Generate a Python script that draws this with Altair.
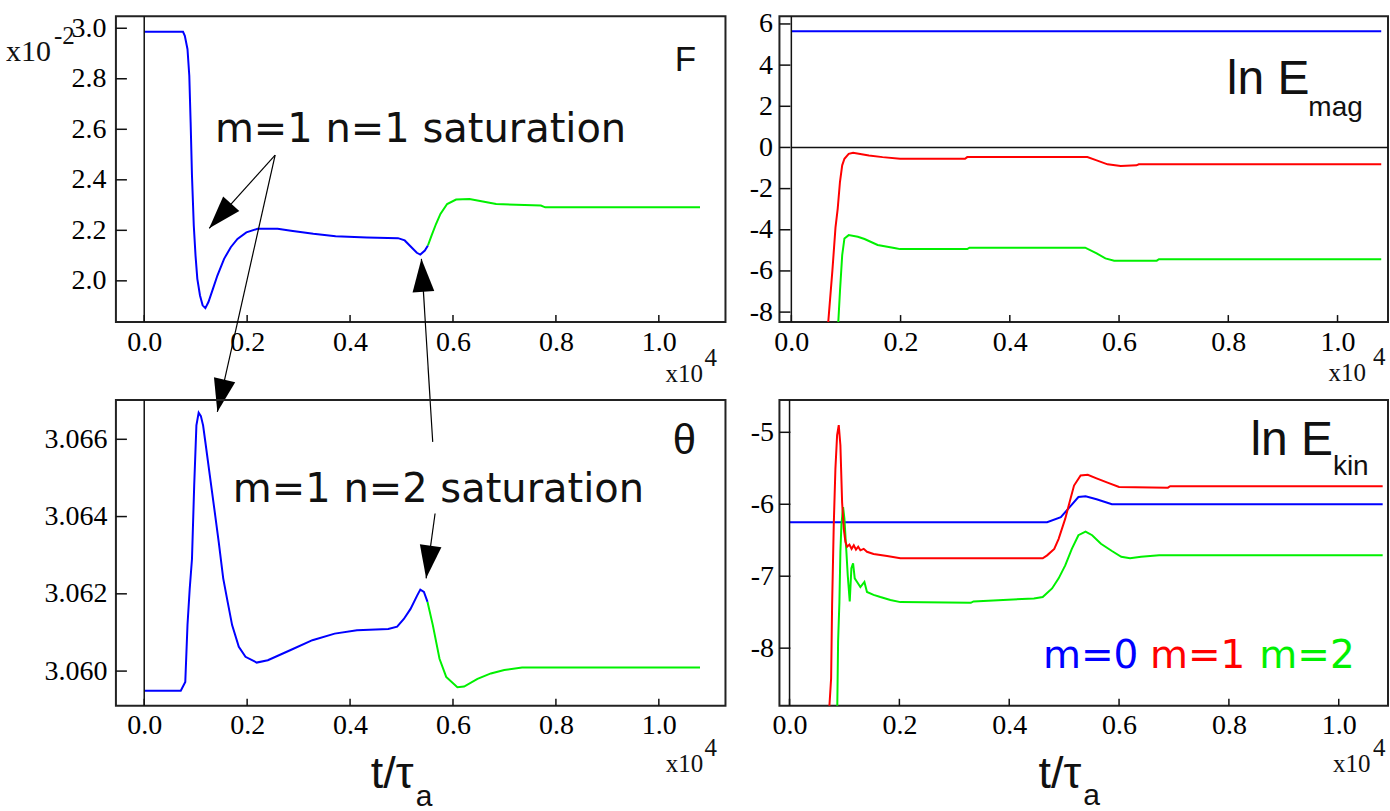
import math
import altair as alt
import pandas as pd

# ---------------- data (time in units of 10^4 tau_a) ----------------
F_blue_t = [0.0, 0.0754, 0.0789, 0.0841, 0.0876, 0.0902, 0.0928, 0.0963, 0.0997, 0.1032,
            0.1084, 0.1135, 0.1188, 0.1248, 0.1335, 0.1422, 0.1552, 0.1682, 0.1812, 0.1985,
            0.2202, 0.2592, 0.2852, 0.3286, 0.3719, 0.4326, 0.4932, 0.5062, 0.5192, 0.5297,
            0.5365, 0.5453, 0.5513]
F_blue_v = [2.986, 2.986, 2.970, 2.917, 2.812, 2.627, 2.417, 2.219, 2.100, 2.008,
            1.942, 1.903, 1.892, 1.916, 1.968, 2.021, 2.087, 2.133, 2.166, 2.192,
            2.206, 2.206, 2.198, 2.186, 2.177, 2.172, 2.169, 2.160, 2.133, 2.111,
            2.104, 2.120, 2.140]
F_green_t = [0.5513, 0.5583, 0.567, 0.5756, 0.5886, 0.606, 0.632, 0.6579, 0.6839, 0.7707, 0.7793, 1.08]
F_green_v = [2.140, 2.179, 2.225, 2.265, 2.304, 2.322, 2.324, 2.314, 2.304, 2.298, 2.291, 2.291]

TH_blue_t = [0.0, 0.071, 0.0798, 0.0841, 0.0884, 0.0928, 0.0971, 0.1014, 0.1058, 0.1101,
             0.1144, 0.1188, 0.1274, 0.1361, 0.1448, 0.1535, 0.1621, 0.1708, 0.1838, 0.1968,
             0.2185, 0.2402, 0.2835, 0.3268, 0.3701, 0.4134, 0.4742, 0.4915, 0.5045, 0.5175,
             0.5305, 0.5365, 0.5435, 0.5505]
TH_blue_v = [3.05949, 3.05949, 3.05972, 3.0612, 3.06213, 3.0629, 3.0648, 3.06636, 3.06669, 3.06660,
             3.06636, 3.06593, 3.06507, 3.06421, 3.06334, 3.0624, 3.06179, 3.06119, 3.06063, 3.06037,
             3.06022, 3.06028, 3.06054, 3.0608, 3.06097, 3.06106, 3.06109, 3.06115, 3.06135, 3.06161,
             3.06196, 3.06211, 3.06205, 3.06179]
TH_green_t = [0.5505, 0.5608, 0.5738, 0.5868, 0.6085, 0.6216, 0.6476, 0.6736, 0.6996, 0.7342, 1.08]
TH_green_v = [3.06179, 3.06119, 3.06032, 3.05985, 3.05958, 3.05960, 3.0598, 3.05994, 3.06003, 3.06009, 3.06009]

EM_m0_t = [0.0, 1.08]
EM_m0_v = [5.65, 5.65]
EM_m1_t = [0.066, 0.0751, 0.0808, 0.0849, 0.0890, 0.0931, 0.0972, 0.105, 0.113, 0.142, 0.167,
           0.199, 0.318, 0.322, 0.542, 0.559, 0.579, 0.603, 0.632, 0.636, 1.08]
EM_m1_v = [-9.0, -6.0, -3.9, -2.97, -1.68, -0.87, -0.55, -0.31, -0.26, -0.39, -0.47,
           -0.55, -0.55, -0.47, -0.47, -0.63, -0.82, -0.90, -0.87, -0.82, -0.82]
EM_m2_t = [0.0849, 0.089, 0.0931, 0.0972, 0.105, 0.1217, 0.134, 0.158, 0.191, 0.199, 0.322,
           0.326, 0.538, 0.559, 0.575, 0.591, 0.669, 0.673, 1.08]
EM_m2_v = [-9.0, -7.0, -5.23, -4.42, -4.26, -4.34, -4.45, -4.74, -4.9, -4.94, -4.94,
           -4.87, -4.87, -5.15, -5.39, -5.5, -5.5, -5.43, -5.43]

EK_m0_t = [0.0, 0.469, 0.494, 0.510, 0.526, 0.539, 0.559, 0.587, 1.08]
EK_m0_v = [-6.25, -6.25, -6.18, -6.04, -5.90, -5.89, -5.93, -6.0, -6.0]
EK_m1_t = [0.071, 0.0757, 0.0775, 0.0805, 0.0835, 0.0866, 0.0896, 0.0926, 0.0957, 0.0987, 0.1017,
           0.1048, 0.109, 0.113, 0.117, 0.121, 0.125, 0.129, 0.135, 0.141, 0.153, 0.1776, 0.2018,
           0.461, 0.469, 0.482, 0.490, 0.502, 0.510, 0.518, 0.530, 0.543, 0.559, 0.579, 0.600,
           0.689, 0.693, 1.08]
EK_m1_v = [-9.0, -8.42, -7.40, -6.29, -5.51, -5.04, -4.90, -5.18, -5.97, -6.34, -6.52,
           -6.59, -6.56, -6.62, -6.57, -6.63, -6.59, -6.64, -6.62, -6.66, -6.69, -6.72, -6.75,
           -6.75, -6.71, -6.62, -6.48, -6.2, -5.97, -5.74, -5.60, -5.59, -5.64, -5.70, -5.76,
           -5.77, -5.75, -5.75]
EK_m2_t = [0.0866, 0.0884, 0.0908, 0.0926, 0.0944, 0.0975, 0.0999, 0.1035, 0.106, 0.1096, 0.1126,
           0.1157, 0.1187, 0.123, 0.129, 0.1363, 0.141, 0.153, 0.1654, 0.1836, 0.2018, 0.33, 0.335,
           0.445, 0.461, 0.478, 0.490, 0.502, 0.514, 0.526, 0.539, 0.551, 0.567, 0.587, 0.604,
           0.620, 0.640, 0.673, 1.08]
EK_m2_v = [-9.0, -7.91, -7.36, -6.66, -6.29, -6.04, -6.2, -6.66, -6.99, -7.35, -6.89,
           -6.82, -7.03, -7.08, -7.15, -7.08, -7.22, -7.26, -7.29, -7.33, -7.36, -7.37, -7.35,
           -7.31, -7.29, -7.17, -7.03, -6.85, -6.62, -6.43, -6.38, -6.43, -6.55, -6.65, -6.73,
           -6.75, -6.73, -6.71, -6.71]

X_TICKS = [0.0, 0.2, 0.4, 0.6, 0.8, 1.0]
F_TICKS = [2.0, 2.2, 2.4, 2.6, 2.8, 3.0]
TH_TICKS = [3.060, 3.062, 3.064, 3.066]
EM_TICKS = [-8, -6, -4, -2, 0, 2, 4, 6]
EK_TICKS = [-8, -7, -6, -5]

# ---------------- styling ----------------
SANS = "Liberation Sans"
SERIF = "Liberation Serif"
WIDE = "DejaVu Sans"
BLUE, RED, GREEN = "#0000ff", "#ff0000", "#00f000"
INK = "#111111"
H = 306
W_L, W_R = 610, 609
ARROW_PATH = "M0,0L0.66,2L-0.66,2Z"
TICK_FONT = dict(labelFont=SERIF, labelFontSize=28, labelColor="#000000",
                 domain=False, ticks=False, grid=False, title=None, labelOverlap=False)


def make_panel(xdom, ydom, width, yticks, yfmt, ylabpad, series, texts,
               arrows=(), hzero=False):
    sx = alt.Scale(domain=xdom, nice=False, zero=False)
    sy = alt.Scale(domain=ydom, nice=False, zero=False)
    ax = alt.Axis(values=X_TICKS, format=".1f", labelPadding=6, labelFlush=False, **TICK_FONT)
    ay = alt.Axis(values=yticks, format=yfmt, labelPadding=ylabpad,
                  labelExpr="replace(datum.label, '\u2212', '-')", **TICK_FONT)

    def X(f):
        return alt.X(f, type="quantitative", scale=sx, axis=ax)

    def Y(f):
        return alt.Y(f, type="quantitative", scale=sy, axis=ay)

    layers = []
    for ts, vs, col in series:
        df = pd.DataFrame({"t": ts, "v": vs})
        layers.append(alt.Chart(df).mark_line(color=col, strokeWidth=2, clip=True)
                      .encode(x=X("t"), y=Y("v")))
    # vertical line at t = 0
    layers.append(alt.Chart(pd.DataFrame({"t": [0.0]}))
                  .mark_rule(color=INK, strokeWidth=1.5).encode(x=X("t")))
    if hzero:
        layers.append(alt.Chart(pd.DataFrame({"t": [0.0], "t2": [xdom[1]], "v": [0.0]}))
                      .mark_rule(color=INK, strokeWidth=1.5)
                      .encode(x=X("t"), x2="t2", y=Y("v")))
    # inward ticks
    layers.append(alt.Chart(pd.DataFrame({"v": yticks}))
                  .mark_rule(color=INK, strokeWidth=1.5)
                  .encode(y=Y("v"), x=alt.value(0), x2=alt.value(11)))
    layers.append(alt.Chart(pd.DataFrame({"t": X_TICKS}))
                  .mark_rule(color=INK, strokeWidth=1.5)
                  .encode(x=X("t"), y=alt.value(H - 7), y2=alt.value(H)))
    # arrows
    if arrows:
        pxx = width / (xdom[1] - xdom[0])
        pxy = H / (ydom[1] - ydom[0])
        t1, v1, t2, v2, ang = [], [], [], [], []
        for a in arrows:
            t1.append(a[0]); v1.append(a[1]); t2.append(a[2]); v2.append(a[3])
            dx = (a[2] - a[0]) * pxx
            dy = -(a[3] - a[1]) * pxy
            ang.append(math.degrees(math.atan2(dx, -dy)) % 360)
        adf = pd.DataFrame({"t": t1, "v": v1, "t2": t2, "v2": v2, "ang": ang})
        layers.append(alt.Chart(adf).mark_rule(color="#000000", strokeWidth=1.2)
                      .encode(x=X("t"), y=Y("v"), x2="t2", y2="v2"))
        layers.append(alt.Chart(adf).mark_point(shape=ARROW_PATH, size=1089, filled=True,
                                                color="#000000", opacity=1, strokeWidth=0)
                      .encode(x=X("t2"), y=Y("v2"), angle=alt.Angle("ang:Q", scale=None)))
    # texts
    for (s, t, v, font, size, col, align) in texts:
        tdf = pd.DataFrame({"t": [t], "v": [v], "s": [s]})
        layers.append(alt.Chart(tdf).mark_text(font=font, fontSize=size, color=col,
                                               align=align, baseline="alphabetic")
                      .encode(x=X("t"), y=Y("v"), text="s:N"))
    return alt.layer(*layers).properties(width=width, height=H)


TL = make_panel(
    [-0.055, 1.1295], [1.8368, 3.0474], W_L, F_TICKS, ".1f", 10,
    [(F_blue_t, F_blue_v, BLUE), (F_green_t, F_green_v, GREEN)],
    [("F", 1.0518, 2.8316, SANS, 35, INK, "center"),
     ("m=1 n=1 saturation", 0.1373, 2.548, WIDE, 40, INK, "left"),
     ("x10", -0.2685, 2.8711, SERIF, 30, INK, "left"),
     ("-2", -0.1753, 2.9368, SERIF, 25, INK, "left"),
     ("x10", 1.013, 1.5996, SERIF, 25, INK, "left"),
     ("4", 1.0887, 1.6628, SERIF, 25, INK, "left")],
    arrows=[(0.2544, 2.498, 0.1262, 2.208),
            (0.2544, 2.498, 0.1421, 1.481),
            (0.5606, 1.3625, 0.5386, 2.087)],
)

TR = make_panel(
    [-0.0218, 1.0924], [-8.484, 6.373], W_R, EM_TICKS, "d", 7,
    [(EM_m0_t, EM_m0_v, BLUE), (EM_m2_t, EM_m2_v, GREEN), (EM_m1_t, EM_m1_v, RED)],
    [("ln E", 0.7973, 2.594, SANS, 48, INK, "left"),
     ("mag", 0.9466, 1.515, SANS, 28, INK, "left"),
     ("x10", 0.9834, -11.36, SERIF, 25, INK, "left"),
     ("4", 1.0651, -10.585, SERIF, 25, INK, "left")],
    hzero=True,
)

BL = make_panel(
    [-0.055, 1.1295], [3.059102, 3.067017], W_L, TH_TICKS, ".3f", 9,
    [(TH_blue_t, TH_blue_v, BLUE), (TH_green_t, TH_green_v, GREEN)],
    [("\u03b8", 1.0499, 3.06563, SANS, 42, INK, "center"),
     ("m=1 n=2 saturation", 0.1722, 3.06438, WIDE, 40, INK, "left"),
     ("x10", 1.0134, 3.057395, SERIF, 25, INK, "left"),
     ("4", 1.0887, 3.057809, SERIF, 25, INK, "left"),
     ("t/\u03c4", 0.4402, 3.056980, SANS, 45, INK, "left"),
     ("a", 0.5276, 3.056520, SANS, 30, INK, "left")],
    arrows=[(0.5652, 3.06408, 0.5478, 3.0624)],
)

BR = make_panel(
    [-0.0184, 1.0897], [-8.801, -4.551], W_R, EK_TICKS, "d", 6,
    [(EK_m0_t, EK_m0_v, BLUE), (EK_m2_t, EK_m2_v, GREEN), (EK_m1_t, EK_m1_v, RED)],
    [("ln E", 0.8392, -5.3194, SANS, 48, INK, "left"),
     ("kin", 0.9894, -5.589, SANS, 28, INK, "left"),
     ("m=0", 0.4614, -8.2736, WIDE, 39, BLUE, "left"),
     ("m=1", 0.6563, -8.2736, WIDE, 39, RED, "left"),
     ("m=2", 0.8554, -8.2736, WIDE, 39, GREEN, "left"),
     ("x10", 0.9894, -9.718, SERIF, 25, INK, "left"),
     ("4", 1.0624, -9.4931, SERIF, 25, INK, "left"),
     ("t/\u03c4", 0.4532, -9.940, SANS, 45, INK, "left"),
     ("a", 0.5346, -10.180, SANS, 30, INK, "left")],
)

chart = (
    alt.concat(TL, TR, BL, BR, columns=2, spacing={"row": 78, "column": 54}, bounds="flush")
    .properties(padding={"left": 5, "top": 8, "right": 0, "bottom": 0},
                autosize=alt.AutoSizeParams(type="pad"), background="white")
    .configure_view(stroke="#222222", strokeWidth=2)
    .configure_axis(labelFont=SERIF, labelFontSize=28, labelColor="#000000",
                    domain=False, ticks=False, grid=False)
)

chart.save("out.html", embed_options={"renderer": "svg", "actions": False})
